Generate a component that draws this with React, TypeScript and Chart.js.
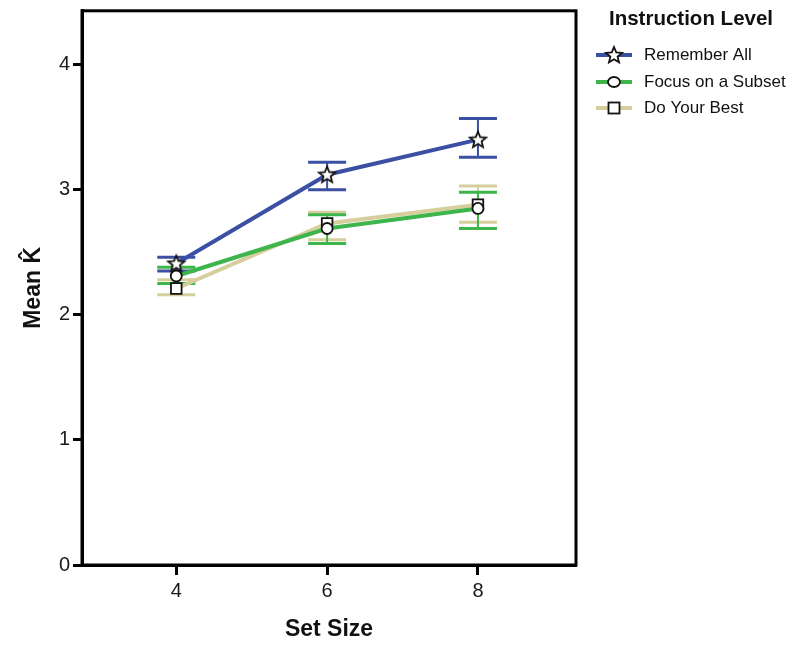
import React, { useEffect, useRef } from "react";
import { Chart, registerables } from "chart.js";

Chart.register(...registerables);

const setSizes = [4, 6, 8];
const xTickValues = [4, 6, 8];
const yTickValues = [0, 1, 2, 3, 4];

const seriesLabels = ["Remember All", "Focus on a Subset", "Do Your Best"];
const seriesColors = ["#3b50a3", "#3db54a", "#d6ce9c"];

const rememberAllMean = [2.41, 3.12, 3.4];
const rememberAllLow = [2.35, 3.0, 3.26];
const rememberAllHigh = [2.46, 3.22, 3.57];

const focusSubsetMean = [2.31, 2.69, 2.85];
const focusSubsetLow = [2.25, 2.57, 2.69];
const focusSubsetHigh = [2.38, 2.8, 2.98];

const doBestMean = [2.21, 2.73, 2.88];
const doBestLow = [2.16, 2.6, 2.74];
const doBestHigh = [2.28, 2.82, 3.03];

const means = [rememberAllMean, focusSubsetMean, doBestMean];
const lows = [rememberAllLow, focusSubsetLow, doBestLow];
const highs = [rememberAllHigh, focusSubsetHigh, doBestHigh];

const FONT = "Arial, 'Liberation Sans', Helvetica, sans-serif";

function makeStar(): HTMLCanvasElement {
  const c = document.createElement("canvas");
  c.width = 22;
  c.height = 22;
  const ctx = c.getContext("2d")!;
  const cx = 11, cy = 11.5, R = 8.5, r = 3.8;
  ctx.beginPath();
  for (let i = 0; i < 10; i++) {
    const ang = -Math.PI / 2 + (i * Math.PI) / 5;
    const rad = i % 2 === 0 ? R : r;
    const x = cx + rad * Math.cos(ang);
    const y = cy + rad * Math.sin(ang);
    if (i === 0) ctx.moveTo(x, y);
    else ctx.lineTo(x, y);
  }
  ctx.closePath();
  ctx.fillStyle = "#fff";
  ctx.fill();
  ctx.lineWidth = 1.8;
  ctx.strokeStyle = "#111";
  ctx.stroke();
  return c;
}

export default function App() {
  const ref = useRef<HTMLCanvasElement>(null);

  useEffect(() => {
    if (!ref.current) return;
    const star = makeStar();
    const pointStyles: any[] = [star, "circle", "rect"];
    const pointRadii = [9, 5.5, 7.5];

    const errorBars = {
      id: "errorBars",
      beforeDatasetsDraw(chart: any) {
        const { ctx, scales } = chart;
        const xs = scales.x, ys = scales.y;
        ctx.save();
        for (let s = means.length - 1; s >= 0; s--) {
          ctx.strokeStyle = seriesColors[s];
          for (let i = 0; i < setSizes.length; i++) {
            const x = xs.getPixelForValue(setSizes[i]);
            const yl = ys.getPixelForValue(lows[s][i]);
            const yh = ys.getPixelForValue(highs[s][i]);
            ctx.lineWidth = 2;
            ctx.beginPath();
            ctx.moveTo(x, yl);
            ctx.lineTo(x, yh);
            ctx.stroke();
            ctx.lineWidth = 3;
            ctx.beginPath();
            ctx.moveTo(x - 19, yl);
            ctx.lineTo(x + 19, yl);
            ctx.moveTo(x - 19, yh);
            ctx.lineTo(x + 19, yh);
            ctx.stroke();
          }
        }
        ctx.restore();
      },
    };

    const frame = {
      id: "frame",
      afterDraw(chart: any) {
        const { ctx, chartArea } = chart;
        ctx.save();
        ctx.strokeStyle = "#000";
        ctx.lineWidth = 3;
        ctx.strokeRect(
          chartArea.left,
          chartArea.top,
          chartArea.right - chartArea.left,
          chartArea.bottom - chartArea.top
        );
        ctx.restore();
      },
    };

    const legend = {
      id: "customLegend",
      afterDraw(chart: any) {
        const { ctx } = chart;
        ctx.save();
        ctx.fillStyle = "#111";
        ctx.font = `bold 20.5px ${FONT}`;
        ctx.textAlign = "left";
        ctx.textBaseline = "middle";
        ctx.fillText("Instruction Level", 609, 19);
        ctx.font = `17px ${FONT}`;
        const ys = [55, 82, 108];
        for (let s = 0; s < seriesLabels.length; s++) {
          const y = ys[s];
          ctx.strokeStyle = seriesColors[s];
          ctx.lineWidth = 4;
          ctx.beginPath();
          ctx.moveTo(596, y);
          ctx.lineTo(632, y);
          ctx.stroke();
          const mx = 614;
          if (s === 0) {
            ctx.drawImage(star, mx - 11, y - 11, 22, 22);
          } else if (s === 1) {
            ctx.beginPath();
            ctx.ellipse(mx, y, 6, 5, 0, 0, Math.PI * 2);
            ctx.fillStyle = "#fff";
            ctx.fill();
            ctx.lineWidth = 1.8;
            ctx.strokeStyle = "#111";
            ctx.stroke();
          } else {
            ctx.fillStyle = "#fff";
            ctx.fillRect(mx - 5.5, y - 5.5, 11, 11);
            ctx.lineWidth = 1.8;
            ctx.strokeStyle = "#111";
            ctx.strokeRect(mx - 5.5, y - 5.5, 11, 11);
          }
          ctx.fillStyle = "#111";
          ctx.fillText(seriesLabels[s], 644, y);
        }
        ctx.restore();
      },
    };

    const chart = new Chart(ref.current, {
      type: "line",
      data: {
        datasets: seriesLabels.map((label, s) => ({
          label,
          data: setSizes.map((x, i) => ({ x, y: means[s][i] })),
          borderColor: seriesColors[s],
          backgroundColor: "#fff",
          borderWidth: 4,
          pointStyle: pointStyles[s],
          pointRadius: pointRadii[s],
          pointBorderColor: "#111",
          pointBackgroundColor: "#fff",
          pointBorderWidth: 1.8,
          tension: 0,
          fill: false,
        })),
      },
      options: {
        responsive: false,
        animation: false,
        events: [],
        layout: { padding: { top: 9, right: 218, left: 0, bottom: 0 } },
        plugins: {
          legend: { display: false },
          tooltip: { enabled: false },
        },
        scales: {
          x: {
            type: "linear",
            min: 2.75,
            max: 9.3,
            afterBuildTicks: (scale: any) => {
              scale.ticks = xTickValues.map((v) => ({ value: v }));
            },
            afterFit: (scale: any) => {
              scale.height = 82;
              scale.paddingLeft = 0;
              scale.paddingRight = 0;
            },
            grid: {
              drawOnChartArea: false,
              drawTicks: true,
              tickLength: 10,
              tickWidth: 3,
              tickColor: "#000",
              color: "#000",
            },
            border: { display: true, color: "#000", width: 3 },
            ticks: {
              color: "#1a1a1a",
              font: { family: FONT, size: 20 },
              padding: 4,
              maxRotation: 0,
              callback: (v: any) => String(v),
            },
            title: {
              display: true,
              text: "Set Size",
              color: "#111",
              font: { family: FONT, size: 23, weight: "bold" },
              padding: { top: 0, bottom: 4 },
            },
          },
          y: {
            type: "linear",
            min: 0,
            max: 4.43,
            afterBuildTicks: (scale: any) => {
              scale.ticks = yTickValues.map((v) => ({ value: v }));
            },
            afterFit: (scale: any) => {
              scale.width = 82;
              scale.paddingTop = 0;
              scale.paddingBottom = 0;
            },
            grid: {
              drawOnChartArea: false,
              drawTicks: true,
              tickLength: 9,
              tickWidth: 3,
              tickColor: "#000",
              color: "#000",
            },
            border: { display: true, color: "#000", width: 3 },
            ticks: {
              color: "#1a1a1a",
              font: { family: FONT, size: 20 },
              padding: 3,
              callback: (v: any) => String(v),
            },
            title: {
              display: true,
              text: "Mean K\u0302",
              color: "#111",
              font: { family: FONT, size: 23, weight: "bold" },
              padding: { top: 20, bottom: 0 },
            },
          },
        },
      },
      plugins: [errorBars, frame, legend],
    } as any);

    return () => chart.destroy();
  }, []);

  return (
    <div style={{ position: "absolute", left: 0, top: 0, width: 794, height: 647, background: "#fff" }}>
      <canvas ref={ref} width={794} height={647} style={{ display: "block" }} />
    </div>
  );
}
